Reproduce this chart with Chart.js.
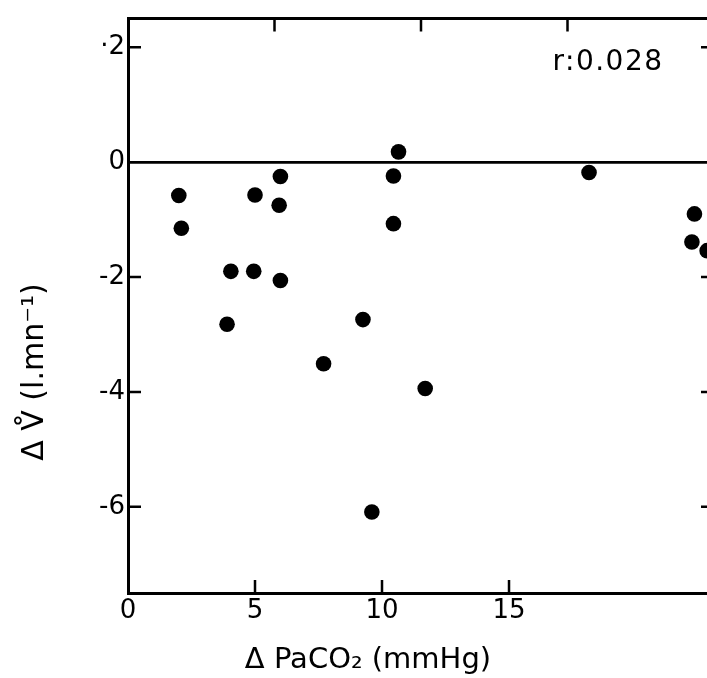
<!DOCTYPE html>
<html><head><meta charset="utf-8">
<script src="https://cdn.jsdelivr.net/npm/chart.js@4.4.0/dist/chart.umd.min.js"></script>
<style>
html,body{margin:0;padding:0;background:#fff;overflow:hidden;width:707px;height:678px}
#wrap{width:730px;height:678px}
</style></head>
<body><div id="wrap"><canvas id="c" width="730" height="678"></canvas></div>
<script>
// Data (ΔPaCO2 in mmHg, ΔV̇ in l/min)
const deltaPaCO2 = [2.0, 2.1, 5.0, 6.0, 5.95, 4.05, 4.95, 6.0, 3.9, 10.65, 10.45, 10.45, 9.25, 7.7, 11.7, 9.6, 18.15, 22.3, 22.2, 22.8];
const deltaVE    = [-0.58, -1.15, -0.57, -0.25, -0.75, -1.9, -1.9, -2.06, -2.82, 0.18, -0.24, -1.07, -2.74, -3.51, -3.94, -6.09, -0.18, -0.9, -1.39, -1.54];

const xTickValues = [0, 5, 10, 15];
const xTickLabels = ['0', '5', '10', '15'];
const yTickValues = [2, 0, -2, -4, -6];
const yTickLabels = ['·2', '0', '-2', '-4', '-6'];
const topTickValues = [1, 2, 3];
const xTitle = 'Δ PaCO₂ (mmHg)';
const yTitle = 'Δ V̊ (l.mn⁻¹)';
const rLabel = 'r:0.028';

const points = deltaPaCO2.map((x, i) => ({x, y: deltaVE[i]}));
const FONT = '"DejaVu Sans", sans-serif';

const framePlugin = {
  id: 'frame',
  afterDraw(chart) {
    const {ctx, chartArea: a, scales} = chart;
    ctx.save();
    ctx.strokeStyle = '#000';
    ctx.lineWidth = 2.5;
    const L = 13;
    ctx.beginPath();
    xTickValues.forEach(v => {
      if (v === 0) return;
      const p = scales.x.getPixelForValue(v);
      ctx.moveTo(p, a.bottom); ctx.lineTo(p, a.bottom - L);
    });
    topTickValues.forEach(v => {
      const p = scales.x2.getPixelForValue(v);
      ctx.moveTo(p, a.top); ctx.lineTo(p, a.top + L);
    });
    yTickValues.forEach(v => {
      if (v === 0) return;
      const p = scales.y.getPixelForValue(v);
      ctx.moveTo(a.left, p); ctx.lineTo(a.left + L, p);
      ctx.moveTo(a.right, p); ctx.lineTo(a.right - L, p);
    });
    ctx.stroke();

    ctx.fillStyle = '#000';
    ctx.textAlign = 'center';
    ctx.textBaseline = 'middle';
    ctx.font = '29px ' + FONT;
    ctx.fillText(xTitle, 368, 660);

    ctx.save();
    ctx.translate(35, 372);
    ctx.rotate(-Math.PI / 2);
    ctx.font = '30px ' + FONT;
    ctx.fillText(yTitle, 0, 0);
    ctx.restore();

    ctx.font = '28px ' + FONT;
    if ('letterSpacing' in ctx) ctx.letterSpacing = '1.5px';
    ctx.fillText(rLabel, 608, 63);
    ctx.restore();
  }
};

new Chart(document.getElementById('c'), {
  type: 'scatter',
  data: {
    datasets: [{
      data: points,
      backgroundColor: '#000',
      borderColor: '#000',
      borderWidth: 0,
      pointRadius: 7.8,
      pointHoverRadius: 7.8
    }]
  },
  options: {
    responsive: false,
    animation: false,
    events: [],
    layout: {padding: {left: 0, right: 16, top: 15, bottom: 0}},
    plugins: {legend: {display: false}, tooltip: {enabled: false}},
    scales: {
      x: {
        type: 'linear', position: 'bottom', min: 0, max: 23.07,
        afterBuildTicks: s => { s.ticks = xTickValues.map(v => ({value: v})); },
        afterFit: s => { s.height = 85; },
        ticks: {
          color: '#000', font: {family: FONT, size: 26}, padding: 3, maxRotation: 0,
          callback: (v) => xTickLabels[xTickValues.indexOf(v)]
        },
        grid: {drawOnChartArea: false, drawTicks: false, color: 'transparent'},
        border: {display: true, color: '#000', width: 3}
      },
      x2: {
        type: 'linear', position: 'top', min: 0, max: 4,
        afterBuildTicks: s => { s.ticks = topTickValues.map(v => ({value: v})); },
        afterFit: s => { s.height = 0; },
        ticks: {display: false},
        grid: {drawOnChartArea: false, drawTicks: false, color: 'transparent'},
        border: {display: true, color: '#000', width: 3}
      },
      y: {
        type: 'linear', position: 'left', min: -7.5, max: 2.5,
        afterBuildTicks: s => { s.ticks = yTickValues.map(v => ({value: v})); },
        afterFit: s => { s.width = 128; },
        ticks: {
          color: '#000', font: {family: FONT, size: 26}, padding: 3,
          callback: (v) => yTickLabels[yTickValues.indexOf(v)]
        },
        grid: {
          drawTicks: false,
          color: c => (c.tick && c.tick.value === 0) ? '#000' : 'transparent',
          lineWidth: c => (c.tick && c.tick.value === 0) ? 2.8 : 0
        },
        border: {display: true, color: '#000', width: 3}
      },
      y2: {
        type: 'linear', position: 'right', min: -7.5, max: 2.5,
        afterFit: s => { s.width = 0; },
        ticks: {display: false},
        grid: {drawOnChartArea: false, drawTicks: false, color: 'transparent'},
        border: {display: true, color: '#000', width: 3}
      }
    }
  },
  plugins: [framePlugin]
});
</script>
</body></html>
